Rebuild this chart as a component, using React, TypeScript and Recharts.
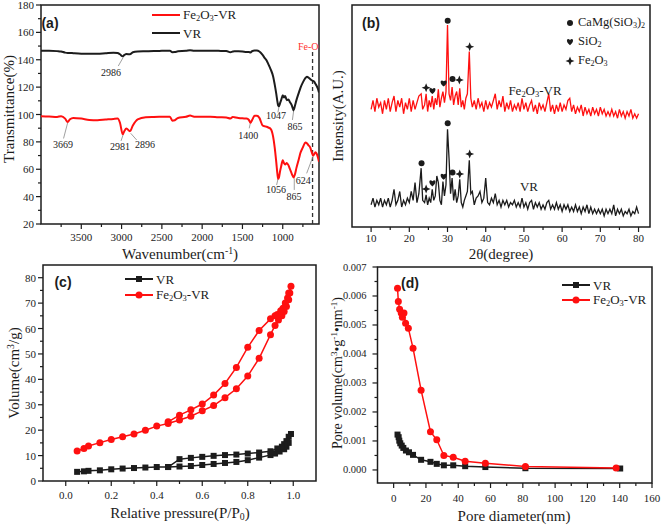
import React from 'react';
import {
  ComposedChart,
  Line,
  Scatter,
  XAxis,
  YAxis,
  ReferenceLine,
  ReferenceArea,
} from 'recharts';

const SERIF = '"Liberation Serif", "Times New Roman", Times, serif';
const SANS = '"Liberation Sans", Arial, Helvetica, sans-serif';
const INK = '#1c1c1c';
const RED = '#ff1010';

// ---------- (a) FT-IR ----------
const ftirWavenumber = [
  4000, 3900, 3800, 3750, 3700, 3669, 3640, 3600, 3500, 3400,
  3300, 3200, 3100, 3050, 3020, 2986, 2965, 2940, 2896, 2860,
  2800, 2700, 2600, 2500, 2400, 2370, 2340, 2300, 2200, 2150,
  2100, 2000, 1900, 1800, 1700, 1650, 1620, 1600, 1550, 1500,
  1450, 1420, 1400, 1380, 1350, 1320, 1290, 1250, 1220, 1200,
  1180, 1150, 1120, 1100, 1080, 1065, 1056, 1047, 1035, 1020,
  1000, 985, 970, 950, 930, 910, 890, 875, 865, 850,
  830, 800, 780, 750, 720, 700, 680, 660, 640, 624,
  610, 595, 580, 565, 550,
];
const ftirVr = [
  146.5, 146.6, 146.3, 146, 145.2, 145, 145, 144.8, 144.4, 144.3,
  144.4, 144.8, 145.2, 145, 144, 142.5, 143.5, 144.2, 144, 145.5,
  146, 146.2, 146.4, 146.5, 146.6, 145.5, 145.6, 146.2, 146.5, 147,
  146.6, 146.5, 146.6, 146.5, 146.4, 145.5, 146, 146.2, 146.2, 146,
  145.6, 145.6, 145.3, 146.3, 146.8, 146.8, 146, 143.5, 141, 139.5,
  137, 133, 128, 122, 115, 109, 106.5, 106, 108, 110.5,
  114, 112.5, 113.5, 110.5, 111, 109, 107, 104.5, 103, 106,
  110.5, 116, 119.5, 123.5, 126.5, 127.5, 127, 126, 125, 124.5,
  124, 122.5, 121, 119, 116,
];
const ftirFe = [
  98.8, 98.6, 98.2, 98.8, 97, 94.5, 96.5, 97.5, 97, 96,
  95.8, 96.3, 96.8, 97, 94, 85.5, 88, 89.8, 87.8, 92,
  96.5, 98, 98.2, 98.3, 98.4, 95.5, 95.8, 97.5, 98.3, 99.2,
  98.4, 98.3, 98.4, 98, 97.8, 97, 98.2, 98, 97.5, 97.2,
  97, 96, 94, 96, 99, 99, 97.5, 92, 91.3, 91,
  90.5, 89.5, 84, 76, 65, 56, 53, 54, 58, 62,
  66.5, 64.5, 63.5, 64.5, 63, 60, 57, 55, 54, 56,
  61, 67.5, 72, 76, 79.5, 79, 77.5, 76, 72.5, 70,
  71, 72.5, 71.5, 69, 65.5,
];
const ftirPeakLabels = [
  { x: 3131, y: 131, t: '2986' },
  { x: 1084, y: 99, t: '1047' },
  { x: 849, y: 91, t: '865' },
  { x: 3727, y: 78, t: '3669' },
  { x: 3020, y: 76.5, t: '2981' },
  { x: 2710, y: 78, t: '2896' },
  { x: 1428, y: 84.5, t: '1400' },
  { x: 1084, y: 45, t: '1056' },
  { x: 861, y: 40, t: '865' },
  { x: 746, y: 51.5, t: '624' },
  { x: 683, y: 149.5, t: 'Fe-O', red: true },
];
const ftirLeaders = [
  [2979, 141.8, 3041, 135.4],
  [1047, 105.5, 1060, 101.5],
  [865, 102.5, 880, 96],
  [3669, 94, 3720, 82.5],
  [2979, 85.5, 3007, 80.7],
  [2887, 86.3, 2813, 81.4],
  [1398, 94.8, 1416, 89.9],
  [1059, 52.9, 1076, 48.5],
  [857, 53.4, 857, 44.9],
  [622, 69.7, 703, 57],
];
const feOLine = [630, 20, 630, 147];
const ftirXTicks = [750, 1000, 1250, 1500, 1750, 2000, 2250, 2500, 2750, 3000, 3250, 3500, 3750];
const ftirYTicks = [20, 30, 40, 50, 60, 70, 80, 90, 100, 110, 120, 130, 140, 150, 160, 170, 180];

// ---------- (b) XRD ----------
const xrdAngle = [
  10, 10.5, 11, 11.5, 12, 12.5, 13, 13.5, 14, 14.5, 15, 15.5, 16, 16.5, 17, 17.5, 18, 18.5, 19, 19.5, 20, 20.5, 21, 21.5, 22, 22.5,
  23.1, 23.5,
  24, 24.4, 24.8, 25.2, 25.6, 26, 26.4, 26.8, 27.2, 27.6, 28, 28.4, 28.8, 29.2, 29.6, 30, 30.4, 30.8, 31.2, 31.6, 32, 32.4, 32.8, 33.2, 33.6, 34, 34.4, 34.8, 35.2,
  35.7, 36.1, 36.5,
  37, 37.5, 38, 38.5, 39, 39.5, 40, 40.5, 41, 41.5, 42, 42.5, 43, 43.5, 44, 44.5, 45, 45.5, 46, 46.5,
  47, 47.5, 48, 48.5, 49, 49.5, 50, 50.5, 51, 51.5, 52, 52.5, 53, 53.5, 54, 54.5, 55, 55.5, 56, 56.5,
  57, 57.5, 58, 58.5, 59, 59.5, 60, 60.5, 61, 61.5, 62, 62.5, 63, 63.5, 64, 64.5, 65, 65.5, 66, 66.5,
  67, 67.5, 68, 68.5, 69, 69.5, 70, 70.5, 71, 71.5, 72, 72.5, 73, 73.5, 74, 74.5, 75, 75.5, 76, 76.5,
  77, 77.5, 78, 78.5, 79, 79.5, 80,
];
const xrdFe = [
  53, 57, 52, 58, 54, 56, 51, 57, 53, 58, 52, 56, 59, 52, 57, 54, 58, 51, 56, 53, 58, 52, 57, 53, 56, 59,
  60, 53,
  55, 60, 52, 57, 54, 59, 53, 58, 55, 62, 54, 58, 61, 56, 61, 91, 60, 57, 63, 55, 59, 61, 55, 62.5, 54, 57, 53, 58, 60,
  79, 58, 54,
  57, 53, 58, 54, 56, 52, 57, 53, 56, 54, 57, 60, 53, 57, 54, 59, 52, 56, 53, 57,
  52, 55, 53, 56, 52, 58, 53, 56, 52, 55, 57, 52, 55, 51, 56, 53, 55, 52, 56, 60,
  52, 55, 51, 55, 52, 56, 52, 55, 53, 57, 58, 52, 55, 51, 54, 52, 55, 50, 54, 51,
  53, 50, 54, 51, 53, 50, 54, 51, 53, 50, 52, 50, 53, 50, 52, 49, 53, 50, 52, 49,
  52, 50, 53, 49, 51, 49, 51,
];
const xrdVr = [
  10, 13, 9, 12, 10, 13, 9, 12, 10, 13, 9, 12, 17, 10, 12, 16, 9, 12, 10, 13, 11, 16, 12, 20, 11, 15,
  26.5, 12,
  11, 14.5, 10, 13, 11, 17, 12, 14, 23, 20, 12, 10, 20.5, 14, 19, 44, 31, 15, 22, 12, 17, 11, 14, 21.5, 11, 9, 12, 14, 16,
  30, 15, 16,
  10, 13, 14, 16, 11, 13, 22, 11, 10, 13, 11, 15, 10, 12, 9, 12, 10, 12, 9, 11,
  10, 12, 9, 11, 9, 13, 9, 11, 8, 11, 12, 8, 11, 9, 11, 8, 10, 8, 11, 12,
  8, 10, 8, 11, 8, 10, 7, 10, 8, 10, 7, 9, 7, 10, 7, 9, 6, 9, 7, 10,
  6, 9, 6, 8, 6, 8, 6, 8, 5, 8, 6, 8, 6, 10, 5, 8, 6, 8, 5, 7,
  6, 8, 5, 7, 6, 9, 6,
];
const xrdCaMgMarks = [
  { x: 30.05, y: 92.9 }, { x: 31.3, y: 66.7 },
  { x: 30.05, y: 46.7 }, { x: 23.2, y: 28.7 }, { x: 31.3, y: 24.6 },
];
const xrdSiO2Marks = [
  { x: 26.05, y: 61.3 }, { x: 29.0, y: 64.7 },
  { x: 26.05, y: 19.7 }, { x: 29.0, y: 22.7 },
];
const xrdFe2O3Marks = [
  { x: 35.8, y: 81.2 }, { x: 24.4, y: 62.7 }, { x: 33.1, y: 66.2 },
  { x: 35.8, y: 32.9 }, { x: 24.4, y: 17.1 }, { x: 33.2, y: 23.9 },
];
const xrdXTicks = [10, 15, 20, 25, 30, 35, 40, 45, 50, 55, 60, 65, 70, 75, 80];

// ---------- (c) N2 isotherms ----------
const isoVrAdsP = [0.05, 0.08, 0.1, 0.15, 0.2, 0.25, 0.3, 0.35, 0.4, 0.45, 0.5, 0.55, 0.6, 0.65, 0.7, 0.75, 0.8, 0.85, 0.9, 0.92, 0.94, 0.96, 0.97, 0.98, 0.99];
const isoVrAdsV = [3.6, 3.8, 4.0, 4.2, 4.6, 4.9, 5.1, 5.3, 5.5, 5.5, 5.7, 5.9, 6.3, 6.7, 7.1, 7.5, 8.2, 9.2, 10.2, 10.8, 11.6, 12.5, 13.5, 15.0, 18.5];
const isoVrDesP = [0.98, 0.97, 0.96, 0.95, 0.93, 0.9, 0.85, 0.8, 0.75, 0.7, 0.65, 0.6, 0.55, 0.5, 0.45];
const isoVrDesV = [17.4, 15.7, 14.5, 13.5, 12.8, 11.7, 11.2, 10.8, 10.4, 10.2, 9.9, 9.5, 9.1, 8.6, 5.5];
const isoFeAdsP = [0.05, 0.08, 0.1, 0.15, 0.2, 0.25, 0.3, 0.35, 0.4, 0.45, 0.5, 0.55, 0.6, 0.65, 0.7, 0.75, 0.8, 0.85, 0.9, 0.92, 0.935, 0.95, 0.96, 0.97, 0.98, 0.985, 0.99];
const isoFeAdsV = [11.8, 12.8, 13.8, 15.1, 16.3, 17.4, 18.5, 20.0, 21.6, 22.6, 24.0, 25.5, 27.6, 29.7, 32.8, 36.3, 41.3, 48.3, 57.6, 61.2, 63.4, 65.0, 66.7, 68.7, 71.3, 74.0, 76.6];
const isoFeDesP = [0.98, 0.975, 0.965, 0.955, 0.945, 0.93, 0.92, 0.9, 0.85, 0.8, 0.75, 0.7, 0.65, 0.6, 0.55, 0.5, 0.45];
const isoFeDesV = [74, 72, 70, 68, 67, 65.5, 65, 63.8, 59.2, 52.6, 44.7, 38.4, 33.8, 30.3, 28.0, 25.9, 23.3];
const isoXTicks = [0, 0.1, 0.2, 0.3, 0.4, 0.5, 0.6, 0.7, 0.8, 0.9, 1.0];
const isoYTicks = [0, 5, 10, 15, 20, 25, 30, 35, 40, 45, 50, 55, 60, 65, 70, 75, 80];

// ---------- (d) pore size distribution ----------
const poreVrD = [2.4, 3.1, 3.5, 4.1, 5.0, 6.0, 7.6, 9.5, 12.0, 17.0, 22.8, 26.7, 31.1, 36.9, 44.3, 56.8, 81.6, 140.3];
const poreVrV = [0.00122, 0.00113, 0.00101, 0.00092, 0.00084, 0.00076, 0.00067, 0.00061, 0.00052, 0.00035, 0.00028, 0.00021, 0.00016, 0.00016, 0.00013, 0.0001, 0.00006, 0.00005];
const poreFeD = [2.4, 2.9, 3.7, 4.7, 5.4, 6.4, 7.4, 9.1, 12.0, 17.0, 22.8, 26.7, 31.1, 36.9, 44.3, 56.8, 81.6, 137.8];
const poreFeV = [0.00627, 0.00581, 0.00554, 0.00541, 0.00527, 0.00541, 0.00506, 0.00489, 0.0042, 0.00275, 0.00132, 0.00104, 0.0005, 0.00044, 0.0003, 0.00023, 0.00012, 0.00007];
const poreXTicks = [0, 10, 20, 30, 40, 50, 60, 70, 80, 90, 100, 110, 120, 130, 140, 150, 160];
const poreYTicks = [0, 0.0005, 0.001, 0.0015, 0.002, 0.0025, 0.003, 0.0035, 0.004, 0.0045, 0.005, 0.0055, 0.006, 0.0065, 0.007];

// ---------- helpers ----------
const pts = (xs: number[], ys: number[]) => xs.map((x, i) => ({ x, y: ys[i] }));
const near = (v: number, step: number) => Math.abs(v / step - Math.round(v / step)) < 1e-6;
const tickText = { fontFamily: SERIF, fill: INK };

const makeXTick = (step: number, fmt: (v: number) => string, dy: number) => (p: any) => {
  const major = near(p.payload.value, step);
  return (
    <g>
      <line x1={p.x} x2={p.x} y1={p.y} y2={p.y + (major ? 5 : 3)} stroke={INK} strokeWidth={1.2} />
      {major && (
        <text x={p.x} y={p.y + dy} textAnchor="middle" dominantBaseline="central" fontSize={11} style={tickText}>
          {fmt(p.payload.value)}
        </text>
      )}
    </g>
  );
};

const makeYTick = (step: number, fmt: (v: number) => string, dx: number, size = 11) => (p: any) => {
  const major = near(p.payload.value, step);
  return (
    <g>
      <line x1={p.x} x2={p.x - (major ? 5 : 3)} y1={p.y} y2={p.y} stroke={INK} strokeWidth={1.2} />
      {major && (
        <text x={p.x - dx} y={p.y} textAnchor="end" dominantBaseline="central" fontSize={size} style={tickText}>
          {fmt(p.payload.value)}
        </text>
      )}
    </g>
  );
};

const Sup = ({ children }: any) => <span style={{ fontSize: '0.65em', verticalAlign: '0.55em' }}>{children}</span>;
const Sub = ({ children }: any) => <span style={{ fontSize: '0.65em', verticalAlign: '-0.25em' }}>{children}</span>;

const heartPath = (cx: number, cy: number) =>
  `M ${cx} ${cy + 3.2} C ${cx - 5} ${cy - 0.5}, ${cx - 3} ${cy - 5}, ${cx} ${cy - 2} C ${cx + 3} ${cy - 5}, ${cx + 5} ${cy - 0.5}, ${cx} ${cy + 3.2} Z`;
const starPath = (cx: number, cy: number) =>
  `M ${cx} ${cy - 4.5} L ${cx + 1.3} ${cy - 1.3} L ${cx + 4.5} ${cy} L ${cx + 1.3} ${cy + 1.3} L ${cx} ${cy + 4.5} L ${cx - 1.3} ${cy + 1.3} L ${cx - 4.5} ${cy} L ${cx - 1.3} ${cy - 1.3} Z`;

const Text = ({ x, y, size = 15, rotate = false, color = INK, font = SERIF, bold = false, children }: any) => (
  <div
    style={{
      position: 'absolute',
      left: x,
      top: y,
      transform: `translate(-50%, -50%)${rotate ? ' rotate(-90deg)' : ''}`,
      fontFamily: font,
      fontSize: size,
      fontWeight: bold ? 700 : 400,
      color,
      whiteSpace: 'nowrap',
      lineHeight: 1,
    }}
  >
    {children}
  </div>
);

const LegendLine = ({ x, y, color, marker, children }: any) => (
  <div style={{ position: 'absolute', left: x, top: y - 6, height: 12, display: 'flex', alignItems: 'center', fontFamily: SERIF, fontSize: 13, color: INK, whiteSpace: 'nowrap', lineHeight: 1 }}>
    <svg width={28} height={10} style={{ marginRight: 3, display: 'block' }}>
      <line x1={0} y1={5} x2={28} y2={5} stroke={color} strokeWidth={2} />
      {marker === 'square' && <rect x={11} y={2} width={6} height={6} fill={color} />}
      {marker === 'circle' && <circle cx={14} cy={5} r={3.5} fill={color} />}
    </svg>
    <span>{children}</span>
  </div>
);

const GlyphLegend = ({ x, y, kind, children }: any) => (
  <div style={{ position: 'absolute', left: x - 5, top: y - 6, height: 12, display: 'flex', alignItems: 'center', fontFamily: SERIF, fontSize: 12.5, color: INK, whiteSpace: 'nowrap', lineHeight: 1 }}>
    <svg width={10} height={10} style={{ marginRight: 3, display: 'block' }}>
      {kind === 'dot' && <circle cx={5} cy={5} r={3} fill={INK} />}
      {kind === 'heart' && <path d={heartPath(5, 5)} fill={INK} />}
      {kind === 'star' && <path d={starPath(5, 5)} fill={INK} />}
    </svg>
    <span>{children}</span>
  </div>
);

const squareDot = (color: string) => (p: any) => (
  <rect key={`s${p.index}`} x={p.cx - 3} y={p.cy - 3} width={6} height={6} fill={color} />
);
const circleDot = (color: string) => (p: any) => (
  <circle key={`c${p.index}`} cx={p.cx} cy={p.cy} r={3.5} fill={color} />
);

const Frame = ({ x1, x2, y1, y2 }: any) => (
  <ReferenceArea x1={x1} x2={x2} y1={y1} y2={y2} fill="none" stroke={INK} strokeWidth={1.5} ifOverflow="visible" />
);

// ---------- panels ----------
function FtirPanel() {
  return (
    <div style={{ position: 'absolute', left: 0, top: 0 }}>
      <ComposedChart width={330} height={260} margin={{ top: 5, right: 11, bottom: 0, left: 0 }}>
        <XAxis dataKey="x" type="number" domain={[550, 4000]} reversed allowDataOverflow ticks={ftirXTicks} interval={0}
          height={36} tickSize={0} tickMargin={0} axisLine={false} tick={makeXTick(500, (v) => String(v), 12.5)} />
        <YAxis dataKey="y" type="number" domain={[20, 180]} allowDataOverflow ticks={ftirYTicks} interval={0}
          width={41} tickSize={0} tickMargin={0} axisLine={false} tick={makeYTick(20, (v) => String(v), 7)} />
        <Frame x1={550} x2={4000} y1={20} y2={180} />
        <ReferenceLine segment={[{ x: feOLine[0], y: feOLine[1] }, { x: feOLine[2], y: feOLine[3] }]} stroke="#333" strokeWidth={1.3} strokeDasharray="4 3" />
        {ftirLeaders.map((l, i) => (
          <ReferenceLine key={i} segment={[{ x: l[0], y: l[1] }, { x: l[2], y: l[3] }]} stroke="#888" strokeWidth={0.8} />
        ))}
        <Line data={pts(ftirWavenumber, ftirVr)} dataKey="y" type="monotone" stroke={INK} strokeWidth={2} dot={false} isAnimationActive={false} />
        <Line data={pts(ftirWavenumber, ftirFe)} dataKey="y" type="monotone" stroke={RED} strokeWidth={2} dot={false} isAnimationActive={false} />
        <Scatter
          data={ftirPeakLabels}
          dataKey="y"
          isAnimationActive={false}
          shape={(p: any) => (
            <text x={p.cx} y={p.cy} textAnchor="middle" dominantBaseline="central" fontSize={10}
              style={{ fontFamily: SERIF, fill: p.payload.red ? '#ff3030' : '#222' }}>
              {p.payload.t}
            </text>
          )}
        />
      </ComposedChart>
    </div>
  );
}

function XrdPanel() {
  return (
    <div style={{ position: 'absolute', left: 330, top: 0 }}>
      <ComposedChart width={331} height={260} margin={{ top: 5, right: 11, bottom: 0, left: 0 }}>
        <XAxis dataKey="x" type="number" domain={[5, 83]} allowDataOverflow ticks={xrdXTicks} interval={0}
          height={33} tickSize={0} tickMargin={0} axisLine={false} tick={makeXTick(10, (v) => String(v), 11)} />
        <YAxis dataKey="y" type="number" domain={[0, 100]} allowDataOverflow width={22} tick={false} tickLine={false} axisLine={false} />
        <Frame x1={5} x2={83} y1={0} y2={100} />
        <Line data={pts(xrdAngle, xrdVr)} dataKey="y" type="linear" stroke={INK} strokeWidth={1.3} dot={false} isAnimationActive={false} />
        <Line data={pts(xrdAngle, xrdFe)} dataKey="y" type="linear" stroke={RED} strokeWidth={1.3} dot={false} isAnimationActive={false} />
        <Scatter data={xrdCaMgMarks} dataKey="y" isAnimationActive={false}
          shape={(p: any) => <circle cx={p.cx} cy={p.cy} r={3} fill={INK} />} />
        <Scatter data={xrdSiO2Marks} dataKey="y" isAnimationActive={false}
          shape={(p: any) => <path d={heartPath(p.cx, p.cy)} fill={INK} />} />
        <Scatter data={xrdFe2O3Marks} dataKey="y" isAnimationActive={false}
          shape={(p: any) => <path d={starPath(p.cx, p.cy)} fill={INK} />} />
      </ComposedChart>
    </div>
  );
}

function IsothermPanel() {
  const vr = [...pts(isoVrAdsP, isoVrAdsV), ...pts(isoVrDesP, isoVrDesV)];
  const fe = [...pts(isoFeAdsP, isoFeAdsV), ...pts(isoFeDesP, isoFeDesV)];
  return (
    <div style={{ position: 'absolute', left: 0, top: 260 }}>
      <ComposedChart width={330} height={265} margin={{ top: 5, right: 14, bottom: 0, left: 0 }}>
        <XAxis dataKey="x" type="number" domain={[-0.1, 1.1]} allowDataOverflow ticks={isoXTicks} interval={0}
          height={44} tickSize={0} tickMargin={0} axisLine={false} tick={makeXTick(0.2, (v) => v.toFixed(1), 14)} />
        <YAxis dataKey="y" type="number" domain={[0, 85]} allowDataOverflow ticks={isoYTicks} interval={0}
          width={43} tickSize={0} tickMargin={0} axisLine={false} tick={makeYTick(10, (v) => String(v), 7)} />
        <Frame x1={-0.1} x2={1.1} y1={0} y2={85} />
        <Line data={vr} dataKey="y" type="linear" stroke={INK} strokeWidth={1.5} dot={squareDot(INK)} isAnimationActive={false} />
        <Line data={fe} dataKey="y" type="linear" stroke={RED} strokeWidth={1.5} dot={circleDot(RED)} isAnimationActive={false} />
      </ComposedChart>
    </div>
  );
}

function PorePanel() {
  return (
    <div style={{ position: 'absolute', left: 330, top: 260 }}>
      <ComposedChart width={331} height={265} margin={{ top: 7, right: 9, bottom: 0, left: 0 }}>
        <XAxis dataKey="x" type="number" domain={[-10, 160]} allowDataOverflow ticks={poreXTicks} interval={0}
          height={42} tickSize={0} tickMargin={0} axisLine={false} tick={makeXTick(20, (v) => String(v), 15)} />
        <YAxis dataKey="y" type="number" domain={[-0.00045, 0.007]} allowDataOverflow ticks={poreYTicks} interval={0}
          width={47.5} tickSize={0} tickMargin={0} axisLine={false} tick={makeYTick(0.001, (v) => v.toFixed(3), 11, 10.5)} />
        <Frame x1={-10} x2={160} y1={-0.00045} y2={0.007} />
        <Line data={pts(poreVrD, poreVrV)} dataKey="y" type="linear" stroke={INK} strokeWidth={1.5} dot={squareDot(INK)} isAnimationActive={false} />
        <Line data={pts(poreFeD, poreFeV)} dataKey="y" type="linear" stroke={RED} strokeWidth={1.5} dot={circleDot(RED)} isAnimationActive={false} />
      </ComposedChart>
    </div>
  );
}

export default function App() {
  return (
    <div style={{ position: 'absolute', left: 0, top: 0, width: 661, height: 525, background: '#fff', overflow: 'hidden' }}>
      <FtirPanel />
      <XrdPanel />
      <IsothermPanel />
      <PorePanel />

      {/* (a) */}
      <Text x={50} y={23} size={14} font={SANS} bold>(a)</Text>
      <LegendLine x={152} y={15} color={RED}>Fe<Sub>2</Sub>O<Sub>3</Sub>-VR</LegendLine>
      <LegendLine x={152} y={33} color={INK}>VR</LegendLine>
      <Text x={9} y={109} rotate>Transmittance(%)</Text>
      <Text x={180} y={254}>Wavenumber(cm<Sup>-1</Sup>)</Text>

      {/* (b) */}
      <Text x={371} y={23} size={14} font={SANS} bold>(b)</Text>
      <GlyphLegend x={570} y={23} kind="dot">CaMg(SiO<Sub>3</Sub>)<Sub>2</Sub></GlyphLegend>
      <GlyphLegend x={570} y={42} kind="heart">SiO<Sub>2</Sub></GlyphLegend>
      <GlyphLegend x={570} y={61} kind="star">Fe<Sub>2</Sub>O<Sub>3</Sub></GlyphLegend>
      <Text x={535} y={91} size={13}>Fe<Sub>2</Sub>O<Sub>3</Sub>-VR</Text>
      <Text x={529} y={186} size={13}>VR</Text>
      <Text x={338} y={116} rotate>Intensity(A.U.)</Text>
      <Text x={501} y={254}>2θ(degree)</Text>

      {/* (c) */}
      <Text x={63} y={282} size={14} font={SANS} bold>(c)</Text>
      <LegendLine x={125} y={279} color={INK} marker="square">VR</LegendLine>
      <LegendLine x={125} y={295} color={RED} marker="circle">Fe<Sub>2</Sub>O<Sub>3</Sub>-VR</LegendLine>
      <Text x={14} y={373} rotate>Volume(cm<Sup>3</Sup>/g)</Text>
      <Text x={180} y={514}>Relative pressure(P/P<Sub>0</Sub>)</Text>

      {/* (d) */}
      <Text x={410} y={283} size={14} font={SANS} bold>(d)</Text>
      <LegendLine x={562} y={285} color={INK} marker="square">VR</LegendLine>
      <LegendLine x={562} y={300} color={RED} marker="circle">Fe<Sub>2</Sub>O<Sub>3</Sub>-VR</LegendLine>
      <Text x={337} y={373} size={14} rotate>Pore volume(cm<Sup>3</Sup>•g<Sup>-1</Sup>•nm<Sup>-1</Sup>)</Text>
      <Text x={514} y={516}>Pore diameter(nm)</Text>
    </div>
  );
}
